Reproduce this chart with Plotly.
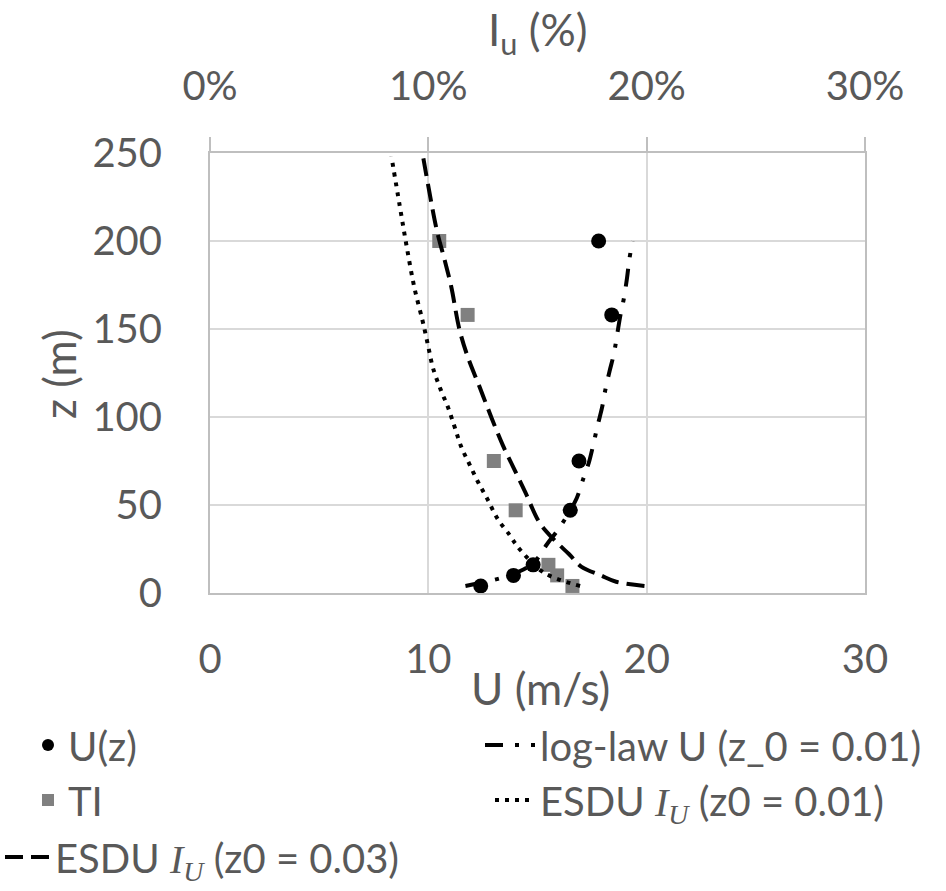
import plotly.graph_objects as go

# ---------------- data ----------------
heights = [4, 10, 16, 47, 75, 158, 200]
u_meas = [12.4, 13.9, 14.8, 16.5, 16.9, 18.4, 17.8]
ti_meas = [16.6, 15.9, 15.5, 14.0, 13.0, 11.8, 10.5]

loglaw_z = [4, 10, 17, 28, 37, 47, 54, 65, 74, 84, 95, 105, 115, 126, 136, 147, 158, 167, 179, 189, 200]
loglaw_u = [11.7, 13.7, 14.8, 15.45, 16.0, 16.5, 16.8, 17.1, 17.35, 17.55, 17.75, 17.95, 18.1, 18.3,
            18.5, 18.65, 18.8, 18.95, 19.1, 19.2, 19.35]

esdu01_z = [4, 11.5, 23.5, 28, 33, 42, 53.5, 62.5, 73, 83, 94.5, 105.5, 116, 128, 138, 145, 155, 173, 196, 220, 248]
esdu01_iu = [16.95, 15.3, 14.28, 13.99, 13.72, 13.18, 12.7, 12.3, 11.89, 11.51, 11.2, 10.9, 10.55, 10.21,
             10.03, 9.91, 9.73, 9.37, 9.02, 8.69, 8.31]

esdu03_z = [4, 6.4, 10, 15, 22, 31, 40, 57, 70, 84, 100, 117, 134, 150, 174, 189, 206, 227, 250]
esdu03_iu = [19.9, 18.6, 17.9, 17.0, 16.45, 15.7, 15.09, 14.45, 13.95, 13.41, 12.88, 12.35, 11.81, 11.42,
             11.05, 10.75, 10.39, 10.06, 9.73]

x_ticks = [0, 10, 20, 30]
x_ticktext = ["0", "10", "20", "30"]
x2_ticktext = ["0%", "10%", "20%", "30%"]
y_ticks = [0, 50, 100, 150, 200, 250]

TXT = "#595959"
GRID = "#D9D9D9"
AXL = "#BFBFBF"
FONT = "Lato"
IU = '<span style="font-family:Liberation Serif;font-style:italic">I<sub>U</sub></span>'

W, H = 946, 891

fig = go.Figure()

fig.add_trace(go.Scatter(x=u_meas, y=heights, mode="markers", name="U(z)", showlegend=True,
                         marker=dict(symbol="circle", size=15, color="black"),
                         legend="legend"))
fig.add_trace(go.Scatter(x=ti_meas, y=heights, mode="markers", name="TI", xaxis="x2", showlegend=True,
                         marker=dict(symbol="square", size=14, color="#808080"),
                         legend="legend2"))
fig.add_trace(go.Scatter(x=loglaw_u, y=loglaw_z, mode="lines", name="log-law U (z_0 = 0.01)",
                         showlegend=True,
                         line=dict(color="black", width=4, dash="18px,12px,4px,12px", shape="spline"),
                         legend="legend3"))
fig.add_trace(go.Scatter(x=esdu01_iu, y=esdu01_z, mode="lines", xaxis="x2", showlegend=True,
                         name="ESDU " + IU + " (z0 = 0.01)",
                         line=dict(color="black", width=4, dash="4px,6px", shape="spline"),
                         legend="legend4"))
fig.add_trace(go.Scatter(x=esdu03_iu, y=esdu03_z, mode="lines", xaxis="x2", showlegend=True,
                         name="ESDU " + IU + " (z0 = 0.03)",
                         line=dict(color="black", width=4, dash="18px,8px", shape="spline"),
                         legend="legend5"))

L, R, T, B = 210, 81, 153, 298
PW, PH = W - L - R, H - T - B


def px(xpix):
    return (xpix - L) / PW


def py(ypix):
    return (H - B - ypix) / PH


def cx(xpix):
    return xpix / W


def cy(ypix):
    return 1 - ypix / H


legfont = dict(family=FONT, size=40, color=TXT)
common = dict(bgcolor="rgba(0,0,0,0)", borderwidth=0, font=legfont, xanchor="left", yanchor="middle",
              orientation="v", xref="container", yref="container", visible=True)

fig.update_layout(
    width=W, height=H,
    showlegend=True,
    margin=dict(l=L, r=R, t=T, b=B, autoexpand=False),
    plot_bgcolor="white", paper_bgcolor="white",
    font=dict(family=FONT, size=40, color=TXT),
    xaxis=dict(range=[0, 30], tickvals=x_ticks, ticktext=x_ticktext, showgrid=True, gridcolor=GRID,
               gridwidth=2, showline=True, linecolor=AXL, linewidth=2, zeroline=False, ticks="",
               ticklabelstandoff=30, tickfont=dict(size=40, color=TXT)),
    xaxis2=dict(range=[0, 30], overlaying="x", side="top", tickvals=x_ticks, ticktext=x2_ticktext,
                showgrid=False, showline=True, linecolor=AXL, linewidth=2, zeroline=False,
                ticks="outside", ticklen=14, tickwidth=2, tickcolor=AXL, ticklabelstandoff=21,
                tickfont=dict(size=40, color=TXT)),
    yaxis=dict(range=[0, 250], tickvals=y_ticks, showgrid=True, gridcolor=GRID, gridwidth=2,
               showline=True, linecolor=AXL, linewidth=2, mirror=True, zeroline=False, ticks="",
               ticklabelstandoff=38, tickfont=dict(size=40, color=TXT)),
    legend=dict(x=cx(28), y=cy(745), itemsizing="constant", itemwidth=30, **common),
    legend2=dict(x=cx(28), y=cy(800), itemsizing="constant", itemwidth=30, **common),
    legend3=dict(x=cx(480), y=cy(745), itemwidth=50, **common),
    legend4=dict(x=cx(490), y=cy(800), itemwidth=40, **common),
    legend5=dict(x=cx(0), y=cy(857), itemwidth=45, **common),
    annotations=[
        dict(text="U (m/s)", x=px(540), y=py(688), xref="paper", yref="paper", showarrow=False,
             xanchor="center", yanchor="middle", font=dict(size=44, color=TXT, family=FONT)),
        dict(text="I<sub>u</sub> (%)", x=px(538), y=py(32), xref="paper", yref="paper", showarrow=False,
             xanchor="center", yanchor="middle", font=dict(size=44, color=TXT, family=FONT)),
        dict(text="z (m)", x=px(59), y=py(374), xref="paper", yref="paper", showarrow=False, textangle=-90,
             xanchor="center", yanchor="middle", font=dict(size=44, color=TXT, family=FONT)),
    ],
)

fig.write_html("out.html")
